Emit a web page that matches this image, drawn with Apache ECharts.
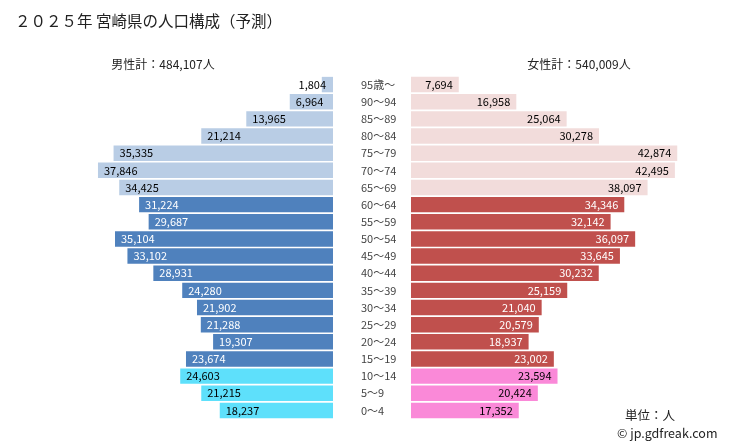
<!DOCTYPE html>
<html>
<head>
<meta charset="utf-8">
<script src="https://cdn.jsdelivr.net/npm/echarts@6/dist/echarts.min.js"></script>
<style>html,body{margin:0;padding:0;background:#fff}#c{width:729px;height:446px}</style>
</head>
<body>
<div id="c"></div>
<script>
var categories = ['95歳～','90～94','85～89','80～84','75～79','70～74','65～69','60～64','55～59','50～54','45～49','40～44','35～39','30～34','25～29','20～24','15～19','10～14','5～9','0～4'];
var maleValues = [1804,6964,13965,21214,35335,37846,34425,31224,29687,35104,33102,28931,24280,21902,21288,19307,23674,24603,21215,18237];
var femaleValues = [7694,16958,25064,30278,42874,42495,38097,34346,32142,36097,33645,30232,25159,21040,20579,18937,23002,23594,20424,17352];
var titleText = '２０２５年 宮崎県の人口構成（予測）';
var maleTotalText = '男性計：484,107人';
var femaleTotalText = '女性計：540,009人';
var unitText = '単位：人';
var creditText = '© jp.gdfreak.com';

var FONT = '"Noto Sans CJK JP","Noto Sans",sans-serif';
function groupIndex(i){ return i <= 6 ? 0 : (i <= 16 ? 1 : 2); }
var maleColors = ['#b9cde5','#4f81bd','#5ee0fb'];
var femaleColors = ['#f2dcdb','#c0504d','#fa89d8'];
var maleText = ['#000','#fff','#000'];
var femaleText = ['#000','#fff','#000'];
function fmt(v){ return v.toLocaleString('en-US'); }

var maleData = maleValues.map(function(v,i){
  var g = groupIndex(i);
  var item = {value:v, itemStyle:{color:maleColors[g]}, label:{color:maleText[g]}};
  if (v < 5000) { item.label.position = 'insideRight'; item.label.distance = 7; }
  return item;
});
var femaleData = femaleValues.map(function(v,i){
  var g = groupIndex(i);
  return {value:v, itemStyle:{color:femaleColors[g]}, label:{color:femaleText[g]}};
});

var chart = echarts.init(document.getElementById('c'), null, {renderer:'canvas'});
var gridTop = 76, gridH = 343, axisMax = 50000;
chart.setOption({
  animation:false,
  backgroundColor:'#fff',
  textStyle:{fontFamily:FONT},
  title:[
    {text:titleText, left:10, top:8, textStyle:{fontSize:15.5, fontWeight:'normal', color:'#222', fontFamily:FONT}},
    {text:maleTotalText, left:158, textAlign:'center', top:53, textStyle:{fontSize:12, fontWeight:'normal', color:'#222', fontFamily:FONT}},
    {text:femaleTotalText, left:574, textAlign:'center', top:53, textStyle:{fontSize:12, fontWeight:'normal', color:'#222', fontFamily:FONT}},
    {text:unitText, left:620, top:404, textStyle:{fontSize:12.5, fontWeight:'normal', color:'#222', fontFamily:FONT}},
    {text:creditText, left:612, top:422, textStyle:{fontSize:12.5, fontWeight:'normal', color:'#222', fontFamily:FONT}}
  ],
  grid:[
    {left:22.5, width:310.5, top:gridTop, height:gridH},
    {left:411, width:310.5, top:gridTop, height:gridH}
  ],
  xAxis:[
    {gridIndex:0, type:'value', min:0, max:axisMax, inverse:true, show:false},
    {gridIndex:1, type:'value', min:0, max:axisMax, show:false}
  ],
  yAxis:[
    {gridIndex:0, type:'category', data:categories, inverse:true, show:false},
    {gridIndex:1, type:'category', data:categories, inverse:true,
     axisLine:{show:false}, axisTick:{show:false},
     axisLabel:{align:'left', margin:50, fontSize:11, color:'#444', fontFamily:FONT}}
  ],
  series:[
    {type:'bar', xAxisIndex:0, yAxisIndex:0, data:maleData, barCategoryGap:'10%',
     label:{show:true, position:'insideLeft', distance:6, fontSize:11, fontFamily:FONT, formatter:function(p){return fmt(p.value);}}},
    {type:'bar', xAxisIndex:1, yAxisIndex:1, data:femaleData, barCategoryGap:'10%',
     label:{show:true, position:'insideRight', distance:6, fontSize:11, fontFamily:FONT, formatter:function(p){return fmt(p.value);}}}
  ]
});
</script>
</body>
</html>
